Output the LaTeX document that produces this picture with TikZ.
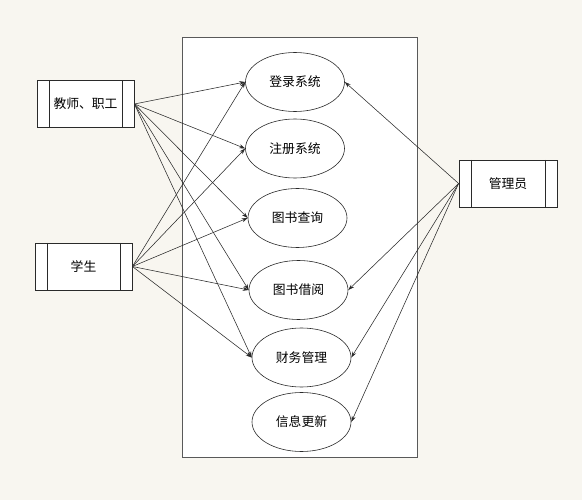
\documentclass[tikz,border=0pt]{standalone}
\usepackage{fontspec}
\newfontfamily\cjk{Noto Sans CJK SC}
\usetikzlibrary{shapes.geometric,arrows.meta}
\definecolor{bgcol}{HTML}{F8F6F0}
\definecolor{linecol}{HTML}{2A2A2A}
\begin{document}
\begin{tikzpicture}[x=1pt,y=-1pt,
  uc/.style={ellipse,draw=linecol,line width=0.6pt,fill=white,minimum width=99pt,minimum height=59pt,inner sep=0pt,font=\cjk\fontsize{12.8}{14}\selectfont},
  actor/.style={draw=linecol,line width=0.8pt,fill=white,minimum width=97pt,minimum height=47pt,inner sep=0pt,font=\cjk\fontsize{12.8}{14}\selectfont,
    path picture={\draw[linecol,line width=0.8pt] ([xshift=12pt]path picture bounding box.north west) -- ([xshift=12pt]path picture bounding box.south west);
                  \draw[linecol,line width=0.8pt] ([xshift=-12pt]path picture bounding box.north east) -- ([xshift=-12pt]path picture bounding box.south east);}},
  assoc/.style={draw=linecol,line width=0.55pt,-{Stealth[length=6pt,width=4pt]}}]
\fill[bgcol] (0,0) rectangle (582,500);
\draw[draw=black!65,line width=0.9pt,fill=white] (182,37) rectangle (417,457);
\node[actor] (t) at (85.5,104) {教师、职工};
\node[actor] (s) at (83.5,266.5) {学生};
\node[actor,minimum width=98pt] (a) at (508,183.5) {管理员};
\node[uc] (u1) at (295,82) {登录系统};
\node[uc] (u2) at (295,148.5) {注册系统};
\node[uc] (u3) at (297.5,218) {图书查询};
\node[uc] (u4) at (298.5,290) {图书借阅};
\node[uc] (u5) at (301.5,357.5) {财务管理};
\node[uc] (u6) at (301.5,422) {信息更新};
\foreach \u in {u1,u2,u3,u4,u5} {
  \draw[assoc] (t.east) -- (\u.west);
  \draw[assoc] (s.east) -- (\u.west);
}
\foreach \u in {u1,u4,u5,u6} {
  \draw[assoc] (a.west) -- (\u.east);
}
\end{tikzpicture}
\end{document}
